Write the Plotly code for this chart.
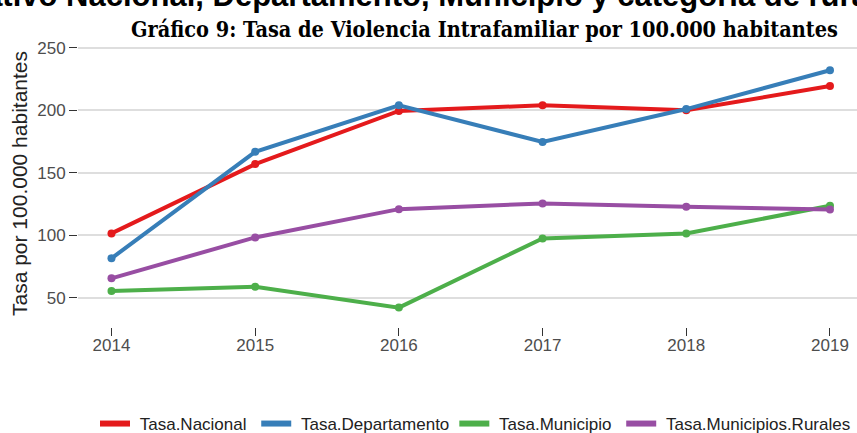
import plotly.graph_objects as go

years = [2014, 2015, 2016, 2017, 2018, 2019]
tasa_nacional = [101.6, 157, 199.5, 204, 200, 219.4]
tasa_departamento = [81.7, 166.8, 204, 174.7, 201, 232]
tasa_municipio = [55.5, 59, 42.3, 97.6, 101.6, 123.7]
tasa_rurales = [65.7, 98.4, 121, 125.6, 122.9, 120.8]

series_names = ["Tasa.Nacional", "Tasa.Departamento", "Tasa.Municipio", "Tasa.Municipios.Rurales"]
series_values = [tasa_nacional, tasa_departamento, tasa_municipio, tasa_rurales]
colors = ["#E41A1C", "#377EB8", "#4DAF4A", "#984EA3"]
legend_labels = ["\u00a0Tasa.Nacional\u00a0", "\u00a0Tasa.Departamento", "\u00a0Tasa.Municipio\u00a0",
                 "\u00a0Tasa.Municipios.Rurales"]

y_ticks = [50, 100, 150, 200, 250]

W, H = 857, 433
L, R, T, B = 78, 0, 40, 106

fig = go.Figure()
for name, vals, c in zip(series_names, series_values, colors):
    fig.add_trace(go.Scatter(x=years, y=vals, mode="lines+markers", name=name,
                             line=dict(color=c, width=4), marker=dict(color=c, size=8),
                             showlegend=False))
for name, c in zip(legend_labels, colors):
    fig.add_trace(go.Scatter(x=[None], y=[None], mode="lines", name=name,
                             line=dict(color=c, width=6), showlegend=True))

def px_to_paper(xp, yp):
    return (xp - L) / (W - L - R), (H - B - yp) / (H - T - B)

lx, ly = px_to_paper(95, 424)
ax, ay = px_to_paper(484, 29)
tx, ty = px_to_paper(404, -4)

fig.update_layout(
    width=W, height=H,
    margin=dict(l=L, r=R, t=T, b=B, autoexpand=False),
    paper_bgcolor="white", plot_bgcolor="white",
    font=dict(family="Liberation Sans, Arial, sans-serif", color="#333333"),
    xaxis=dict(range=[2013.767, 2019.188], tickvals=years, ticktext=[str(y) for y in years],
               showgrid=False, zeroline=False, ticks="outside", ticklen=8, tickcolor="#333333",
               tickfont=dict(size=17, color="#4d4d4d"), showline=False, automargin=False,
               ticklabelstandoff=-5),
    yaxis=dict(range=[26.8, 256.2], tickvals=y_ticks, showgrid=True, gridcolor="#dedede", gridwidth=1.5,
               zeroline=False, ticks="outside", ticklen=8, tickcolor="#333333",
               tickfont=dict(size=17, color="#4d4d4d"), automargin=False,
               title=dict(text="Tasa por 100.000 habitantes", font=dict(size=21, color="#222222"), standoff=3)),
    legend=dict(orientation="h", x=lx, xanchor="left", y=ly, yanchor="middle",
                font=dict(size=17, color="#222222"), itemwidth=30, tracegroupgap=0,
                bgcolor="rgba(0,0,0,0)"),
    annotations=[
        dict(text="<b>Comparativo Nacional, Departamento, Municipio y categoría de ruralidad</b>",
             x=tx, xref="paper", y=ty, yref="paper", xanchor="center", yanchor="middle", showarrow=False,
             font=dict(family="Liberation Sans, Arial, sans-serif", size=31, color="#000000")),
        dict(text="<b>Gráfico 9: Tasa de Violencia Intrafamiliar por 100.000 habitantes</b>",
             x=ax, xref="paper", y=ay, yref="paper", xanchor="center", yanchor="middle", showarrow=False,
             font=dict(family="DejaVu Serif Condensed, Liberation Serif, serif", size=21.5, color="#000000")),
    ],
)

fig.write_html("out.html", config={"displayModeBar": False},
               post_script="document.body.style.margin='0';document.body.style.overflow='hidden';")
